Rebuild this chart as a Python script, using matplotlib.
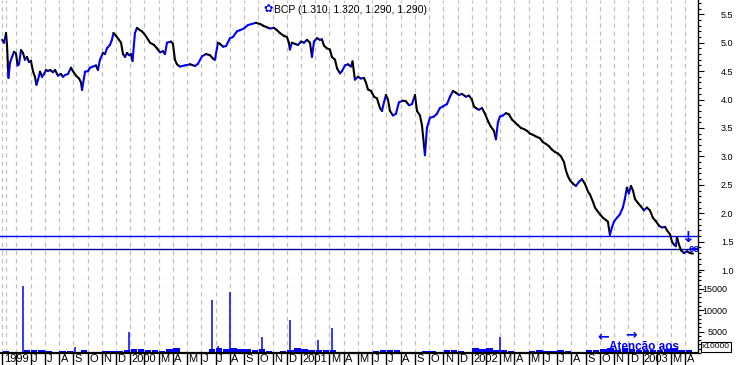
import numpy as np
import matplotlib
matplotlib.use("Agg")
import matplotlib.pyplot as plt
from matplotlib.collections import LineCollection
from matplotlib.ticker import MultipleLocator, FixedLocator
import matplotlib.transforms as mtransforms

plt.rcParams['font.family'] = ['Liberation Sans', 'DejaVu Sans']

# time axis: months since 1 Apr 1999
months = [
    0.00, 0.13, 0.27, 0.34, 0.44, 0.55, 0.69, 0.83, 0.97, 1.08,
    1.18, 1.32, 1.46, 1.60, 1.74, 1.88, 2.02, 2.16, 2.30, 2.41,
    2.52, 2.66, 2.80, 2.94, 3.08, 3.22, 3.36, 3.57, 3.71, 3.92,
    4.13, 4.27, 4.41, 4.62, 4.83, 4.97, 5.19, 5.40, 5.54, 5.61,
    5.82, 6.03, 6.17, 6.38, 6.59, 6.73, 6.87, 7.08, 7.22, 7.36,
    7.57, 7.71, 7.82, 8.00, 8.21, 8.35, 8.49, 8.63, 8.77, 8.91,
    9.05, 9.16, 9.33, 9.47, 9.68, 9.82, 10.03, 10.39, 10.67, 10.88,
    11.09, 11.30, 11.44, 11.58, 11.86, 12.00, 12.14, 12.28, 12.49, 12.84,
    13.20, 13.55, 13.76, 14.04, 14.32, 14.60, 14.81, 14.95, 15.16, 15.30,
    15.52, 15.73, 16.01, 16.22, 16.50, 16.71, 16.99, 17.27,
    17.55, 17.83, 18.12, 18.33, 18.61, 18.82, 19.10, 19.31, 19.52, 19.80,
    20.01, 20.15, 20.22, 20.36, 20.57, 20.79, 21.00, 21.21, 21.42, 21.63,
    21.77, 21.91, 22.12, 22.33, 22.47, 22.61, 22.82, 23.03, 23.17, 23.39,
    23.53, 23.74, 23.88, 24.09, 24.30, 24.51, 24.62, 24.79, 25.00, 25.21,
    25.42, 25.56, 25.70, 25.92, 26.13, 26.34, 26.55, 26.69, 26.83, 26.97,
    27.11, 27.25, 27.46, 27.67, 27.88, 28.16, 28.37, 28.59, 28.80, 29.01,
    29.15, 29.36, 29.50, 29.64, 29.71, 29.85, 30.06, 30.34, 30.55, 30.76,
    30.97, 31.26, 31.47, 31.68, 31.89, 32.10, 32.31, 32.59, 32.80, 33.01,
    33.15, 33.29, 33.50, 33.72, 33.93, 34.14, 34.35, 34.56, 34.70, 34.84,
    34.98, 35.19, 35.40, 35.61, 35.82, 36.03, 36.24, 36.46, 36.67, 36.88,
    37.09, 37.30, 37.51, 37.79, 38.00, 38.21, 38.42, 38.63, 38.84, 39.06,
    39.27, 39.48, 39.62, 39.76, 39.90, 40.11, 40.32, 40.53, 40.74, 40.95,
    41.17, 41.31, 41.52, 41.66, 41.80, 42.01, 42.22, 42.43, 42.57, 42.71,
    42.85, 42.99, 43.20, 43.41, 43.62, 43.76, 43.90, 44.04, 44.19, 44.33,
    44.47, 44.68, 44.89, 45.10, 45.31, 45.52, 45.73, 45.94, 46.16, 46.37,
    46.58, 46.72, 46.93, 47.07, 47.21, 47.35, 47.42, 47.56, 47.70, 47.91,
    48.12, 48.33, 48.54,
]
close = [
    5.05, 5.00, 5.17, 4.95, 4.38, 4.65, 4.75, 4.84, 4.81, 4.60,
    4.62, 4.87, 4.82, 4.70, 4.75, 4.66, 4.68, 4.50, 4.40, 4.26,
    4.35, 4.49, 4.40, 4.45, 4.52, 4.50, 4.52, 4.48, 4.52, 4.42,
    4.45, 4.40, 4.43, 4.45, 4.56, 4.50, 4.42, 4.37, 4.30, 4.17,
    4.49, 4.50, 4.56, 4.58, 4.60, 4.52, 4.70, 4.82, 4.80, 4.90,
    4.96, 5.05, 5.17, 5.12, 5.05, 5.00, 4.80, 4.75, 4.82, 4.78,
    4.80, 4.68, 5.17, 5.26, 5.22, 5.20, 5.14, 5.00, 4.96, 4.90,
    4.83, 4.85, 4.80, 5.00, 5.02, 4.98, 4.70, 4.62, 4.58, 4.60,
    4.62, 4.59, 4.63, 4.76, 4.80, 4.78, 4.72, 4.70, 5.00, 4.98,
    4.93, 4.94, 5.08, 5.10, 5.20, 5.22, 5.25, 5.31,
    5.33, 5.35, 5.33, 5.30, 5.27, 5.25, 5.26, 5.22, 5.17, 5.12,
    5.10, 5.00, 4.88, 5.00, 4.98, 4.96, 5.02, 5.00, 5.05, 5.00,
    4.75, 5.02, 5.08, 5.05, 5.06, 4.95, 4.90, 4.88, 4.75, 4.70,
    4.55, 4.46, 4.50, 4.60, 4.62, 4.58, 4.67, 4.35, 4.40, 4.37,
    4.38, 4.30, 4.18, 4.15, 4.05, 4.02, 3.85, 3.80, 3.95, 4.08,
    4.00, 3.80, 3.72, 3.75, 3.95, 3.98, 3.97, 3.90, 3.92, 4.08,
    3.80, 3.72, 3.55, 3.20, 3.02, 3.50, 3.68, 3.70, 3.75, 3.85,
    3.88, 3.92, 4.05, 4.15, 4.12, 4.08, 4.10, 4.05, 4.07, 4.00,
    3.88, 3.85, 3.82, 3.85, 3.75, 3.62, 3.52, 3.45, 3.30, 3.60,
    3.70, 3.72, 3.76, 3.74, 3.65, 3.60, 3.55, 3.50, 3.48, 3.45,
    3.40, 3.38, 3.35, 3.32, 3.25, 3.22, 3.18, 3.12, 3.08, 3.05,
    3.00, 2.90, 2.75, 2.65, 2.58, 2.52, 2.48, 2.55, 2.60, 2.52,
    2.38, 2.33, 2.20, 2.10, 2.05, 1.98, 1.92, 1.88, 1.85, 1.62,
    1.75, 1.85, 1.92, 1.98, 2.10, 2.25, 2.45, 2.35, 2.48, 2.40,
    2.25, 2.18, 2.12, 2.05, 2.10, 2.05, 1.92, 1.86, 1.78, 1.75,
    1.76, 1.70, 1.63, 1.50, 1.45, 1.42, 1.58, 1.45, 1.35, 1.30,
    1.33, 1.30, 1.29,
]

# volume, one value per half month from April 1999
vol_half_month = [
    500, 300, 300, 800, 600, 600, 500, 200, 400, 400,
    300, 600, 200, 100, 400, 400, 500, 600, 1000, 900,
    800, 700, 400, 900, 1200, 300, 300, 200, 200, 900,
    1200, 1000, 1100, 1000, 900, 700, 900, 400, 300, 500,
    600, 1100, 900, 700, 800, 700, 800, 200, 200, 300,
    200, 300, 500, 600, 600, 800, 300, 200, 300, 500,
    500, 300, 600, 600, 500, 300, 1200, 1000, 1100, 800,
    700, 400, 300, 300, 400, 700, 500, 500, 600, 500,
    300, 200, 600, 700, 1000, 1200, 800, 1100, 900, 700,
    600, 800, 600, 900, 1100, 800, 600,
]
# single-day volume spikes
spike_months = [1.46, 5.12, 8.91, 14.74, 15.16, 16.01, 18.26, 20.22, 22.19, 23.17, 34.98]
spike_vol = [15600, 1500, 4900, 12500, 1600, 14200, 3700, 7700, 3000, 5800, 3800]

month_labels = ["1999", "", "J", "J", "A", "S", "O", "N", "D",
                "2000", "", "M", "A", "M", "J", "J", "A", "S", "O", "N", "D",
                "2001", "", "M", "A", "M", "J", "J", "A", "S", "O", "N", "D",
                "2002", "", "M", "A", "M", "J", "J", "A", "S", "O", "N", "D",
                "2003", "", "M", "A"]

support_hi = 1.60
support_lo = 1.37

BLUE = '#0000ff'
GRID = '#c0c0c0'
W, H = 738, 365


def px(x, y):
    return x / W, 1 - y / H


fig = plt.figure(figsize=(W / 100, H / 100), dpi=100)
ax_p = fig.add_axes([0, 1 - 271 / H, 698 / W, 271 / H])
ax_v = fig.add_axes([0, 1 - 353 / H, 698 / W, (353 - 271) / H], sharex=ax_p)

ax_p.set_xlim(-0.155, 48.9)
ax_p.set_ylim(0.984, 5.751)
ax_v.set_ylim(0, 19200)

# month gridlines
for ax in (ax_p, ax_v):
    for m in list(range(len(month_labels))) + [0.25]:
        ax.axvline(m, color=GRID, lw=0.9, ls=(0, (3.5, 3)), zorder=0)

# price: blue when rising, black when falling
pts = np.column_stack([months, close])
segs = np.stack([pts[:-1], pts[1:]], axis=1)
seg_colors = np.where(np.diff(close) >= 0, BLUE, 'black')
ax_p.add_collection(LineCollection(segs, colors=seg_colors, linewidths=1.5,
                                   capstyle='round', zorder=3))

ax_p.axhline(support_hi, color=BLUE, lw=1.0, zorder=2)
ax_p.axhline(support_lo, color='#000099', lw=1.0, zorder=2)

# volume
vol_x = np.arange(len(vol_half_month)) * 0.5 + 0.25
ax_v.bar(vol_x, vol_half_month, width=0.45, color=BLUE, zorder=2)
ax_v.vlines(spike_months, 0, spike_vol, color=BLUE, lw=1.1, zorder=2)

# spines
for ax in (ax_p, ax_v):
    for s in ('top', 'left'):
        ax.spines[s].set_visible(False)
    ax.spines['right'].set_color('black')
    ax.spines['right'].set_linewidth(1.0)
    ax.yaxis.tick_right()
    ax.set_facecolor('white')
ax_p.spines['bottom'].set_visible(False)
ax_v.spines['bottom'].set_linewidth(1.6)

# right axis, price
ax_p.yaxis.set_major_locator(FixedLocator(np.arange(1.0, 5.51, 0.5)))
ax_p.yaxis.set_minor_locator(MultipleLocator(0.1))
ax_p.set_yticklabels(['%.1f' % v for v in np.arange(1.0, 5.51, 0.5)])
ax_p.tick_params(axis='y', which='major', length=4.5, width=0.8, pad=12, labelsize=6.5)
ax_p.tick_params(axis='y', which='minor', length=2.2, width=0.8)
ax_p.tick_params(axis='x', which='both', length=0, labelbottom=False)

# right axis, volume
ax_v.yaxis.set_major_locator(FixedLocator([5000, 10000, 15000]))
ax_v.yaxis.set_minor_locator(MultipleLocator(1000))
ax_v.set_yticklabels(['5000', '10000', '15000'])
ax_v.tick_params(axis='y', which='major', length=4.5, width=0.8, pad=16.5, labelsize=6.5)
ax_v.tick_params(axis='y', which='minor', length=2.2, width=0.8)
for lab in ax_v.get_yticklabels():
    lab.set_horizontalalignment('right')

# month strip
ax_v.set_xticks(range(len(month_labels)))
ax_v.tick_params(axis='x', which='major', length=8.6, width=1.0, direction='out',
                 color='black', labelbottom=False)
trans = mtransforms.blended_transform_factory(ax_v.transData, ax_v.transAxes)
for m, lab in enumerate(month_labels):
    if lab:
        ax_v.text(m + 0.1, -6 / 82, lab, transform=trans, fontsize=8,
                  ha='left', va='center', clip_on=False)

# header and markers
fig.text(*px(263, 9), "\u273f", color=BLUE, fontsize=8, family=['DejaVu Sans'],
         ha='left', va='center')
fig.text(*px(274, 10), "BCP (1.310, 1.320, 1.290, 1.290)", fontsize=7.5,
         ha='left', va='center')
fig.text(*px(687, 238), "\u2193", color=BLUE, fontsize=11, fontweight='bold',
         family=['DejaVu Sans'], ha='center', va='center')
fig.text(*px(689, 249), "ee", color=BLUE, fontsize=7, fontweight='bold',
         ha='left', va='center')
fig.text(*px(609, 347), "Atenção aos", color=BLUE, fontsize=8.5,
         fontweight='bold', ha='left', va='center')
fig.text(*px(597, 337), "\u2190", color=BLUE, fontsize=10, fontweight='bold',
         family=['DejaVu Sans'], ha='left', va='center')
fig.text(*px(625, 335), "\u2192", color=BLUE, fontsize=10, fontweight='bold',
         family=['DejaVu Sans'], ha='left', va='center')
fig.text(*px(702, 347), "x10000", fontsize=6, ha='left', va='center',
         bbox=dict(boxstyle='square,pad=0.15', fc='white', ec='black', lw=0.8))

fig.savefig("out.png", dpi=100, facecolor='white')
